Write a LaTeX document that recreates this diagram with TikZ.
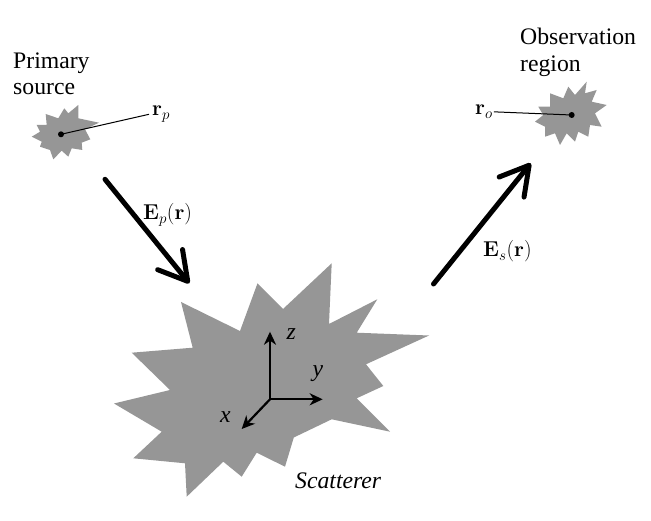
\RequirePackage{fix-cm}
\documentclass[tikz,border=0pt]{standalone}
\usepackage[no-math]{fontspec}
\setmainfont{LiberationSerif}[Extension=.ttf,UprightFont=*-Regular,ItalicFont=*-Italic,BoldFont=*-Bold,BoldItalicFont=*-BoldItalic]
\usetikzlibrary{arrows.meta}
\definecolor{blobgray}{RGB}{150,150,150}
\tikzset{
  blob/.style={fill=blobgray},
  dotnode/.style={circle,fill=black,inner sep=0pt,minimum size=6pt},
  lbl/.style={inner sep=0pt,font=\rmfamily\upshape\fontsize{23.7}{26}\selectfont},
  ilbl/.style={inner sep=0pt,font=\rmfamily\itshape\fontsize{23.7}{26}\selectfont},
  mlbl/.style={inner sep=0pt,font=\fontsize{21.5}{24}\selectfont},
  leader/.style={line width=1pt},
  bigarrow/.style={line width=5pt,line cap=round,-{Straight Barb[length=28pt,width=32pt,line width=5pt,round]}},
  axis/.style={line width=2.2pt,-{Stealth[length=13pt,width=12pt,inset=4pt]}},
}
\begin{document}
\begin{tikzpicture}[x=1pt,y=-1pt]
\useasboundingbox (0,0) rectangle (651,521);
% scatterer
\fill[blob] (181,302) -- (240,331) -- (257.5,283.3) -- (283,309) -- (331.7,263.3)
  -- (329,324) -- (377.3,299.3) -- (356.7,332.7) -- (429,335.5) -- (366,364.3)
  -- (383.3,386) -- (356.7,398.3) -- (390,431.7) -- (331.7,419.3) -- (293.8,437.5)
  -- (285,466.7) -- (256.7,452.7) -- (241.7,476.7) -- (223.3,461.7) -- (186.7,496.7)
  -- (185,463.3) -- (133.3,458.3) -- (161.7,431.7) -- (114,403.5) -- (170,390)
  -- (131.7,352.7) -- (192.7,347.7) -- cycle;
% primary source blob
\fill[blob] (45.7,114) -- (58.3,118.3) -- (64.3,108.3) -- (68.3,113.3) -- (78.3,105)
  -- (78.3,118.3) -- (99,122.7) -- (85,129.3) -- (90.3,139.3) -- (81.7,142.7)
  -- (82.3,150) -- (71.7,148.3) -- (68.3,156.7) -- (61.7,150.7) -- (53.3,159.3)
  -- (50,150) -- (40,146.7) -- (41.7,141.7) -- (31.7,136.7) -- (40,131.7)
  -- (36.7,125) -- (46.7,125) -- cycle;
% observation blob
\fill[blob] (586.7,81.7) -- (585,93.3) -- (596.7,90) -- (591.7,101.7) -- (606.7,105)
  -- (595,113.3) -- (601.7,126.7) -- (590,125) -- (588.3,136.7) -- (578.3,131.7)
  -- (575,141.7) -- (566.7,133.3) -- (560,145) -- (555,133.3) -- (545,136.7)
  -- (545,126.7) -- (535,121.7) -- (543.3,115) -- (538.3,106.7) -- (550,106.7)
  -- (550,93.3) -- (563.3,98.3) -- (568.3,86.7) -- (575,95) -- cycle;
% labels
\node[lbl,anchor=base west] (prim) at (13,69) {Primary};
\node[lbl,anchor=base west] (src) at (13,95) {source};
\node[lbl,anchor=base west] (obs) at (520,45) {Observation};
\node[lbl,anchor=base west] (reg) at (520,71.7) {region};
\node[dotnode] (pdot) at (61,134.3) {};
\node[dotnode] (odot) at (571.7,115) {};
\node[mlbl,anchor=base west] (rp) at (152,116) {$\mathbf{r}_p$};
\node[mlbl,anchor=base west] (ro) at (475,115) {$\mathbf{r}_o$};
\draw[leader] (pdot.center) -- ([xshift=-3pt]rp.west);
\draw[leader] (odot.center) -- ([xshift=1pt]ro.east);
% field arrows
\coordinate (ep1) at (105,179.3);
\coordinate (ep2) at (189.3,283.3);
\coordinate (es1) at (433.5,284);
\coordinate (es2) at (530.7,163.3);
\draw[bigarrow] (ep1) -- (ep2);
\draw[bigarrow] (es1) -- (es2);
\node[mlbl,anchor=base west] (eplbl) at (143,220) {$\mathbf{E}_p(\mathbf{r})$};
\node[mlbl,anchor=base west] (eslbl) at (483,257) {$\mathbf{E}_s(\mathbf{r})$};
% axes
\coordinate (org) at (270,399.3);
\coordinate (zend) at (270,331.7);
\coordinate (yend) at (322.7,399.3);
\coordinate (xend) at (241.7,429);
\draw[axis] (org) -- (zend);
\draw[axis] (org) -- (yend);
\draw[axis] (org) -- (xend);
\node[ilbl,anchor=base west] (zl) at (286.5,340) {z};
\node[ilbl,anchor=base west] (yl) at (312.5,377) {y};
\node[ilbl,anchor=base west] (xl) at (220,423) {x};
\node[ilbl,anchor=base west] (scat) at (295,488) {Scatterer};
\end{tikzpicture}
\end{document}
